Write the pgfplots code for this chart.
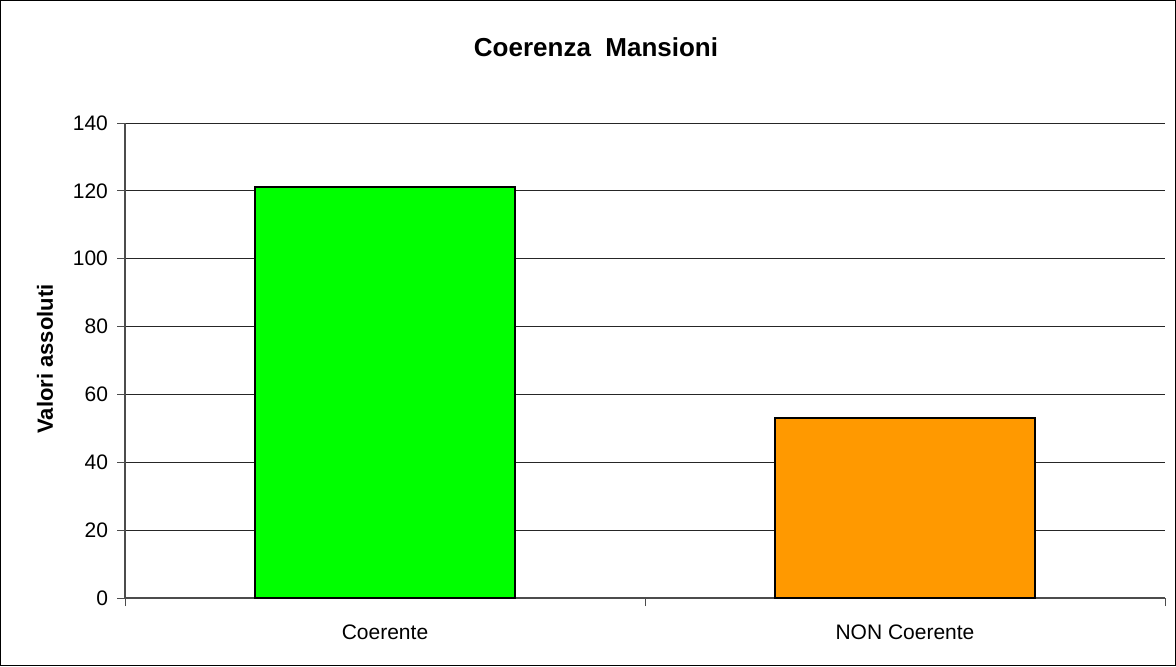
\documentclass[border=0pt]{standalone}
\usepackage{pgfplots}
\pgfplotsset{compat=1.18}
\usepackage{fontspec}
\setmainfont{Liberation Sans}
\definecolor{bargreen}{RGB}{0,255,0}
\definecolor{barorange}{RGB}{255,153,0}
\begin{document}
\begin{tikzpicture}
\draw[black,line width=0.6pt] (0.3pt,0.3pt) rectangle (587.7pt,332.7pt);
\node[font=\bfseries\fontsize{13}{15}\selectfont] at (298pt,309.5pt) {Coerenza\ \ Mansioni};
\node[rotate=90,font=\bfseries\fontsize{11}{13}\selectfont] at (22.5pt,153.5pt) {Valori assoluti};
\begin{axis}[
  at={(62.5pt,34pt)}, anchor=south west,
  scale only axis, width=520pt, height=237.5pt,
  xmin=-0.5, xmax=1.5, ymin=0, ymax=140,
  axis x line*=bottom, axis y line*=left,
  axis line style={black!70, line width=0.6pt},
  xtick={-0.5,0.5,1.5}, xticklabels={},
  extra x ticks={0,1}, extra x tick labels={Coerente,NON Coerente},
  extra x tick style={major tick length=0pt, xticklabel style={yshift=-10pt}},
  ytick={0,20,...,140},
  tick align=outside, major tick length=4pt,
  tick style={black!70, line width=0.5pt},
  ymajorgrids, grid style={black!85, line width=0.5pt},
  ticklabel style={font=\fontsize{10.5}{12}\selectfont},
  yticklabel style={xshift=-1pt},
  /pgf/number format/assume math mode=true,
  clip=false,
]
\addplot[ybar, bar width=130pt, fill=bargreen, draw=black, line width=1pt] coordinates {(0,121)};
\addplot[ybar, bar width=130pt, fill=barorange, draw=black, line width=1pt] coordinates {(1,53)};
\end{axis}
\end{tikzpicture}
\end{document}
